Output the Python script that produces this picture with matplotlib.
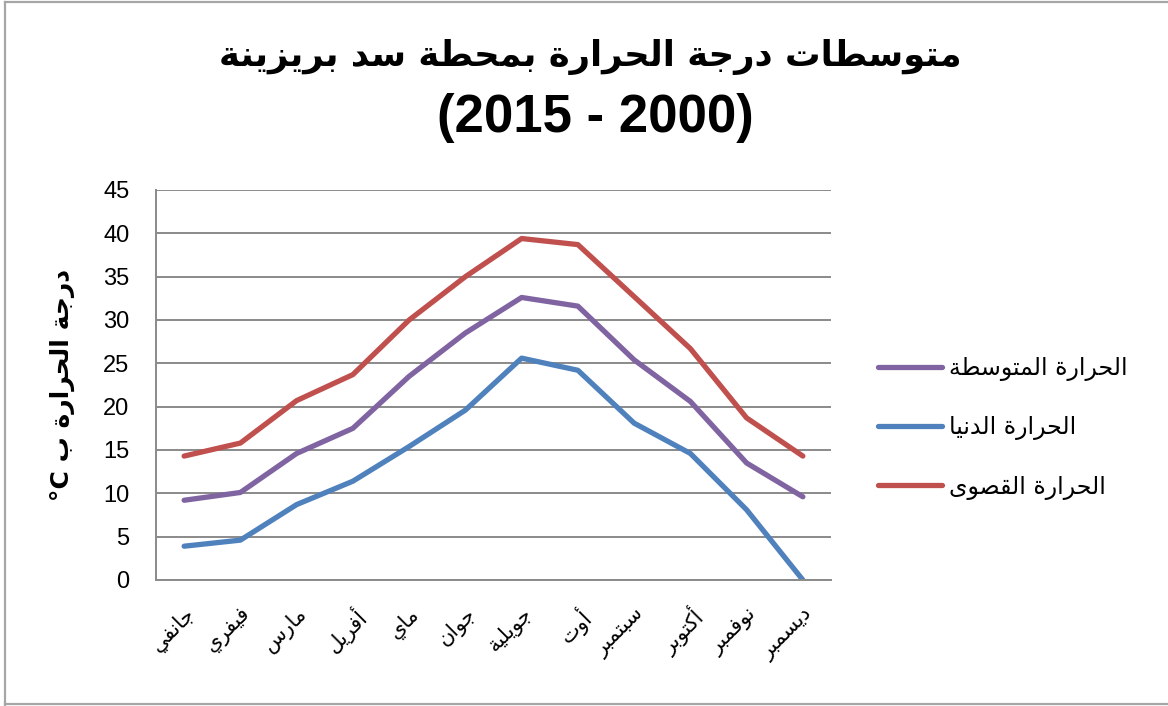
import matplotlib
matplotlib.use('Agg')
import matplotlib.pyplot as plt
from matplotlib.lines import Line2D

# monthly temperatures, Brezina dam station (2000-2015)
months = ['جانفي', 'فيفري', 'مارس', 'أفريل', 'ماي', 'جوان',
          'جويلية', 'أوت', 'سبتمبر', 'أكتوبر', 'نوفمبر', 'ديسمبر']
t_mean = [9.2, 10.1, 14.6, 17.5, 23.5, 28.5, 32.6, 31.6, 25.4, 20.6, 13.5, 9.6]
t_min = [3.9, 4.6, 8.7, 11.4, 15.4, 19.6, 25.6, 24.2, 18.1, 14.6, 8.1, 0.0]
t_max = [14.3, 15.8, 20.7, 23.7, 30.0, 35.0, 39.4, 38.7, 32.7, 26.7, 18.7, 14.3]
series_names = ['الحرارة المتوسطة', 'الحرارة الدنيا', 'الحرارة القصوى']
title_ar = 'متوسطات درجة الحرارة بمحطة سد بريزينة'
title_years = '(2015 - 2000)'
ylabel_ar = 'درجة الحرارة ب'
yticks = [0, 5, 10, 15, 20, 25, 30, 35, 40, 45]

# matplotlib does no arabic shaping, so pick presentation forms by hand
DUAL = {'ئ': 0xFE89, 'ب': 0xFE8F, 'ت': 0xFE95, 'ث': 0xFE99, 'ج': 0xFE9D,
        'ح': 0xFEA1, 'خ': 0xFEA5, 'س': 0xFEB1, 'ش': 0xFEB5, 'ص': 0xFEB9,
        'ض': 0xFEBD, 'ط': 0xFEC1, 'ظ': 0xFEC5, 'ع': 0xFEC9, 'غ': 0xFECD,
        'ف': 0xFED1, 'ق': 0xFED5, 'ك': 0xFED9, 'ل': 0xFEDD, 'م': 0xFEE1,
        'ن': 0xFEE5, 'ه': 0xFEE9, 'ي': 0xFEF1}
RIGHT = {'آ': 0xFE81, 'أ': 0xFE83, 'ؤ': 0xFE85, 'إ': 0xFE87, 'ا': 0xFE8D,
         'ة': 0xFE93, 'د': 0xFEA9, 'ذ': 0xFEAB, 'ر': 0xFEAD, 'ز': 0xFEAF,
         'و': 0xFEED, 'ى': 0xFEEF}


def shape(text):
    out = []
    for i, ch in enumerate(text):
        prev = text[i-1] if i > 0 else ''
        nxt = text[i+1] if i < len(text)-1 else ''
        jp = prev in DUAL
        if ch in DUAL:
            jn = nxt in DUAL or nxt in RIGHT
            b = DUAL[ch]
            out.append(chr(b + (3 if jp and jn else 1 if jp else 2 if jn else 0)))
        elif ch in RIGHT:
            out.append(chr(RIGHT[ch] + (1 if jp else 0)))
        else:
            out.append(ch)
    return ''.join(out)


def rtl(text):
    return shape(text)[::-1]


W, H = 1168, 706
fig = plt.figure(figsize=(W/100, H/100), dpi=100)
ax = fig.add_axes([156/W, 1-580/H, (831-156)/W, (580-190)/H])

x = list(range(len(months)))
lw = 3.8
ax.plot(x, t_mean, color='#8064A2', lw=lw, solid_capstyle='round', label=rtl(series_names[0]))
ax.plot(x, t_min, color='#4F81BD', lw=lw, solid_capstyle='round', label=rtl(series_names[1]))
ax.plot(x, t_max, color='#C0504D', lw=lw, solid_capstyle='round', label=rtl(series_names[2]))

ax.set_xlim(-0.5, len(months)-0.5)
ax.set_ylim(0, 45)
ax.set_yticks(yticks)
ax.set_yticklabels([str(v) for v in yticks], family='Liberation Sans', fontsize=17)
ax.set_xticks(x)
ax.set_xticklabels([rtl(m) for m in months], family='DejaVu Sans', fontsize=15,
                   rotation=45, ha='right', va='top', rotation_mode='anchor')
ax.tick_params(axis='y', length=0, pad=19)
ax.tick_params(axis='x', length=0, pad=17)
ax.grid(axis='y', color='#8a8a8a', lw=1.4)
ax.set_axisbelow(True)
for s in ['top', 'right']:
    ax.spines[s].set_visible(False)
for s in ['left', 'bottom']:
    ax.spines[s].set_color('#8a8a8a')
    ax.spines[s].set_linewidth(1.4)

fig.text(62/W, 1-385/H, '°C ' + rtl(ylabel_ar), rotation=90, ha='center', va='center',
         family='DejaVu Sans', fontweight='bold', fontsize=18)

fig.text(590/W, 1-57/H, rtl(title_ar), ha='center', va='center',
         family='DejaVu Sans', fontweight='bold', fontsize=25.5)
fig.text(595/W, 1-118/H, title_years, ha='center', va='center',
         family='Liberation Sans', fontweight='bold', fontsize=38)

ax.legend(loc='center left', bbox_to_anchor=(878/W, 1-428/H), bbox_transform=fig.transFigure,
          frameon=False, prop={'family': 'DejaVu Sans', 'size': 17},
          handlelength=2.7, handletextpad=0.3, labelspacing=1.45, borderpad=0, borderaxespad=0)

# chart area border
fig.add_artist(Line2D([5/W, 5/W], [0, 1-2/H], transform=fig.transFigure, color='#a6a6a6', lw=1.6))
fig.add_artist(Line2D([5/W, 1], [1-2/H, 1-2/H], transform=fig.transFigure, color='#a6a6a6', lw=1.6))
fig.add_artist(Line2D([5/W, 1], [1-704/H, 1-704/H], transform=fig.transFigure, color='#a6a6a6', lw=1.6))

fig.savefig('out.png', dpi=100)
